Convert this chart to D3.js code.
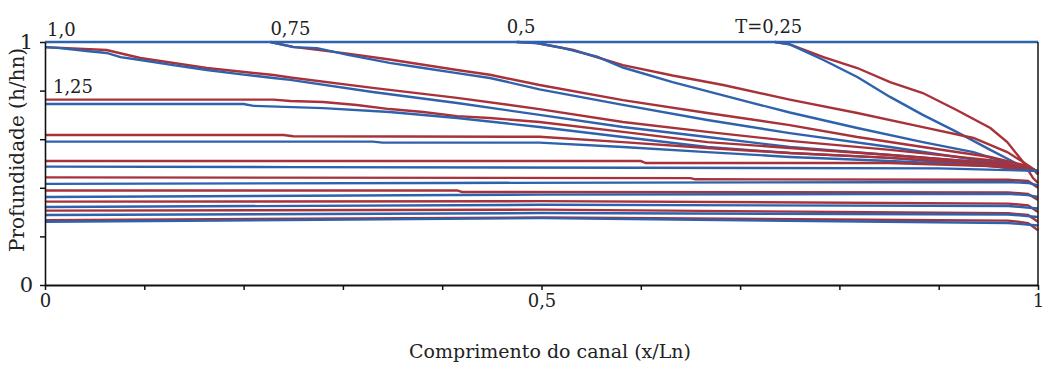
<!DOCTYPE html>
<html>
<head>
<meta charset="utf-8">
<script src="https://cdn.jsdelivr.net/npm/d3@7"></script>
<style>
  body { margin: 0; background: #fff; }
  text { font-family: "DejaVu Serif", "Liberation Serif", serif; fill: #222; }
</style>
</head>
<body>
<svg id="chart" width="1044" height="365"></svg>
<script>
// Depth profiles h/hn along the channel x/Ln at successive times T.
// Each profile is a list of [x/Ln, h/hn] pairs; red and blue are the two solutions compared.
const T000blue = [[0, 1], [1, 1]];

const T025red = [[0.735, 1], [0.75, 0.99], [0.784, 0.938], [0.818, 0.893], [0.851, 0.835], [0.884, 0.79], [0.918, 0.72], [0.952, 0.646], [0.969, 0.588], [0.985, 0.506], [0.995, 0.44], [1, 0.42]];
const T025blue = [[0.735, 1], [0.75, 0.99], [0.784, 0.926], [0.818, 0.856], [0.851, 0.774], [0.884, 0.70], [0.918, 0.63], [0.952, 0.556], [0.985, 0.486], [1, 0.465]];

const T050red = [[0.475, 1], [0.495, 0.996], [0.532, 0.967], [0.582, 0.905], [0.632, 0.862], [0.683, 0.823], [0.75, 0.763], [0.818, 0.708], [0.884, 0.65], [0.935, 0.605], [0.969, 0.547], [0.985, 0.506], [0.997, 0.473], [1, 0.455]];
const T050blue = [[0.475, 1], [0.495, 0.996], [0.522, 0.975], [0.556, 0.94], [0.582, 0.895], [0.632, 0.835], [0.683, 0.78], [0.75, 0.71], [0.818, 0.646], [0.884, 0.588], [0.935, 0.547], [0.969, 0.502], [0.992, 0.473], [1, 0.468]];

const T075red = [[0.227, 1], [0.25, 0.98], [0.305, 0.952], [0.347, 0.928], [0.415, 0.885], [0.448, 0.865], [0.498, 0.823], [0.582, 0.761], [0.667, 0.708], [0.75, 0.658], [0.818, 0.609], [0.884, 0.568], [0.952, 0.527], [0.985, 0.494], [0.997, 0.468], [1, 0.455]];
const T075blue = [[0.227, 1], [0.25, 0.979], [0.274, 0.975], [0.305, 0.947], [0.347, 0.914], [0.381, 0.893], [0.415, 0.872], [0.448, 0.852], [0.498, 0.805], [0.582, 0.741], [0.667, 0.679], [0.75, 0.625], [0.851, 0.568], [0.952, 0.506], [0.992, 0.473], [1, 0.468]];

const T100red = [[0, 0.979], [0.062, 0.967], [0.096, 0.934], [0.163, 0.893], [0.23, 0.864], [0.247, 0.854], [0.33, 0.811], [0.415, 0.77], [0.498, 0.724], [0.582, 0.671], [0.667, 0.63], [0.75, 0.593], [0.851, 0.556], [0.952, 0.514], [0.997, 0.473], [1, 0.46]];
const T100blue = [[0, 0.979], [0.015, 0.975], [0.042, 0.963], [0.062, 0.955], [0.076, 0.938], [0.096, 0.926], [0.129, 0.905], [0.163, 0.885], [0.196, 0.868], [0.23, 0.852], [0.247, 0.844], [0.33, 0.794], [0.415, 0.749], [0.498, 0.70], [0.582, 0.65], [0.667, 0.609], [0.75, 0.568], [0.851, 0.535], [0.952, 0.502], [0.997, 0.473], [1, 0.47]];

const T125red = [[0, 0.763], [0.23, 0.763], [0.247, 0.757], [0.28, 0.753], [0.314, 0.741], [0.347, 0.724], [0.381, 0.712], [0.415, 0.695], [0.448, 0.687], [0.498, 0.671], [0.582, 0.63], [0.667, 0.588], [0.75, 0.564], [0.851, 0.535], [0.952, 0.502], [0.997, 0.473], [1, 0.46]];
const T125blue = [[0, 0.745], [0.2, 0.745], [0.21, 0.737], [0.28, 0.728], [0.347, 0.712], [0.415, 0.687], [0.498, 0.65], [0.582, 0.609], [0.667, 0.568], [0.75, 0.543], [0.851, 0.523], [0.952, 0.49], [0.997, 0.47], [1, 0.468]];

const T150red = [[0, 0.617], [0.24, 0.617], [0.25, 0.612], [0.498, 0.61], [0.582, 0.588], [0.667, 0.564], [0.75, 0.543], [0.851, 0.523], [0.952, 0.498], [0.997, 0.473], [1, 0.46]];
const T150blue = [[0, 0.59], [0.33, 0.59], [0.34, 0.586], [0.498, 0.586], [0.582, 0.568], [0.667, 0.547], [0.75, 0.527], [0.851, 0.51], [0.952, 0.49], [0.997, 0.47], [1, 0.468]];

const T175red = [[0, 0.51], [0.6, 0.51], [0.605, 0.502], [0.85, 0.502], [0.95, 0.49], [0.997, 0.473], [1, 0.46]];
const T175blue = [[0, 0.487], [0.25, 0.485], [0.9, 0.48], [0.997, 0.47], [1, 0.465]];

const T200red = [[0, 0.443], [0.65, 0.44], [0.655, 0.435], [0.97, 0.433], [0.99, 0.428], [1, 0.40]];
const T200blue = [[0, 0.416], [0.4, 0.42], [0.97, 0.424], [0.99, 0.42], [1, 0.41]];

const T225red = [[0, 0.389], [0.415, 0.389], [0.42, 0.383], [0.97, 0.381], [0.99, 0.375], [1, 0.35]];
const T225blue = [[0, 0.362], [0.5, 0.372], [0.97, 0.375], [0.99, 0.37], [1, 0.362]];

const T250red = [[0, 0.343], [0.5, 0.345], [0.97, 0.335], [0.99, 0.328], [1, 0.30]];
const T250blue = [[0, 0.321], [0.5, 0.33], [0.97, 0.325], [1, 0.315]];

const T275red = [[0, 0.306], [0.5, 0.31], [0.97, 0.295], [0.99, 0.288], [1, 0.26]];
const T275blue = [[0, 0.288], [0.5, 0.296], [0.97, 0.29], [1, 0.28]];

const T300red = [[0, 0.267], [0.5, 0.278], [0.97, 0.265], [0.99, 0.255], [1, 0.225]];
const T300blue = [[0, 0.26], [0.5, 0.275], [0.97, 0.255], [1, 0.245]];

// Time labels written at the start of each profile
const timeLabels = ["T=0,25", "0,5", "0,75", "1,0", "1,25"];

// Axis ticks and their labels
const xTicks = [0, 0.1, 0.2, 0.3, 0.4, 0.5, 0.6, 0.7, 0.8, 0.9, 1];
const xTickLabels = ["0", "", "", "", "", "0,5", "", "", "", "", "1"];
const yTicks = [0, 0.2, 0.4, 0.6, 0.8, 1];
const yTickLabels = ["0", "", "", "", "", "1"];

const xTitle = "Comprimento do canal (x/Ln)";
const yTitle = "Profundidade (h/hn)";

const RED = "#a8323a";
const BLUE = "#2f62ad";

const pairs = [
  [T025red, T025blue], [T050red, T050blue], [T075red, T075blue], [T100red, T100blue],
  [T125red, T125blue], [T150red, T150blue], [T175red, T175blue], [T200red, T200blue],
  [T225red, T225blue], [T250red, T250blue], [T275red, T275blue], [T300red, T300blue]
];

const svg = d3.select("#chart");
const x = d3.scaleLinear().domain([0, 1]).range([45, 1038]);
const y = d3.scaleLinear().domain([0, 1]).range([285, 42]);

const line = d3.line().x(d => x(d[0])).y(d => y(d[1]));

const plot = svg.append("g");
pairs.forEach(([r, b]) => {
  plot.append("path").attr("d", line(r)).attr("fill", "none")
    .attr("stroke", RED).attr("stroke-width", 2.4);
  plot.append("path").attr("d", line(b)).attr("fill", "none")
    .attr("stroke", BLUE).attr("stroke-width", 2.4);
});
plot.append("path").attr("d", line(T000blue)).attr("fill", "none")
  .attr("stroke", BLUE).attr("stroke-width", 2.4);

// right-hand frame
svg.append("line")
  .attr("x1", x(1)).attr("x2", x(1)).attr("y1", y(1)).attr("y2", y(0))
  .attr("stroke", "#222").attr("stroke-width", 1.6);

// axes
const xAxis = d3.axisBottom(x).tickValues(xTicks)
  .tickFormat((d, i) => xTickLabels[i]).tickSize(5).tickSizeOuter(0).tickPadding(4);
const gx = svg.append("g").attr("transform", `translate(0,${y(0)})`).call(xAxis);
gx.select(".domain").attr("stroke", "#111").attr("stroke-width", 2);
gx.selectAll(".tick line").attr("stroke", "#111").attr("stroke-width", 1.5);
gx.selectAll(".tick text").attr("font-size", 18).attr("font-family", "DejaVu Serif").attr("fill", "#222");

const yAxis = d3.axisLeft(y).tickValues(yTicks)
  .tickFormat((d, i) => yTickLabels[i]).tickSize(5).tickSizeOuter(0).tickPadding(7);
const gy = svg.append("g").attr("transform", `translate(${x(0)},0)`).call(yAxis);
gy.select(".domain").attr("stroke", "#111").attr("stroke-width", 1.6);
gy.selectAll(".tick line").attr("stroke", "#111").attr("stroke-width", 1.5);
gy.selectAll(".tick text").attr("font-size", 21).attr("font-family", "DejaVu Serif").attr("fill", "#222");

// titles
svg.append("text").attr("x", 550).attr("y", 358).attr("text-anchor", "middle")
  .attr("font-size", 19).text(xTitle);
svg.append("text").attr("transform", `translate(24,${150}) rotate(-90)`)
  .attr("text-anchor", "middle").attr("font-size", 20).text(yTitle);

// time labels at the start of the profiles
const labelAnchors = [
  { text: timeLabels[0], x: T025blue[0][0] - 0.04, y: y(1) - 9 },
  { text: timeLabels[1], x: T050blue[0][0] - 0.01, y: y(1) - 9 },
  { text: timeLabels[2], x: T075blue[0][0] + 0.0, y: y(1) - 7 },
  { text: timeLabels[3], x: 0.002, y: y(1) - 6 },
  { text: timeLabels[4], x: 0.008, y: y(T125red[0][1]) - 7 }
];
svg.selectAll("text.tl").data(labelAnchors).join("text")
  .attr("class", "tl")
  .attr("x", d => x(d.x)).attr("y", d => d.y)
  .attr("font-size", 18).text(d => d.text);
</script>
</body>
</html>
